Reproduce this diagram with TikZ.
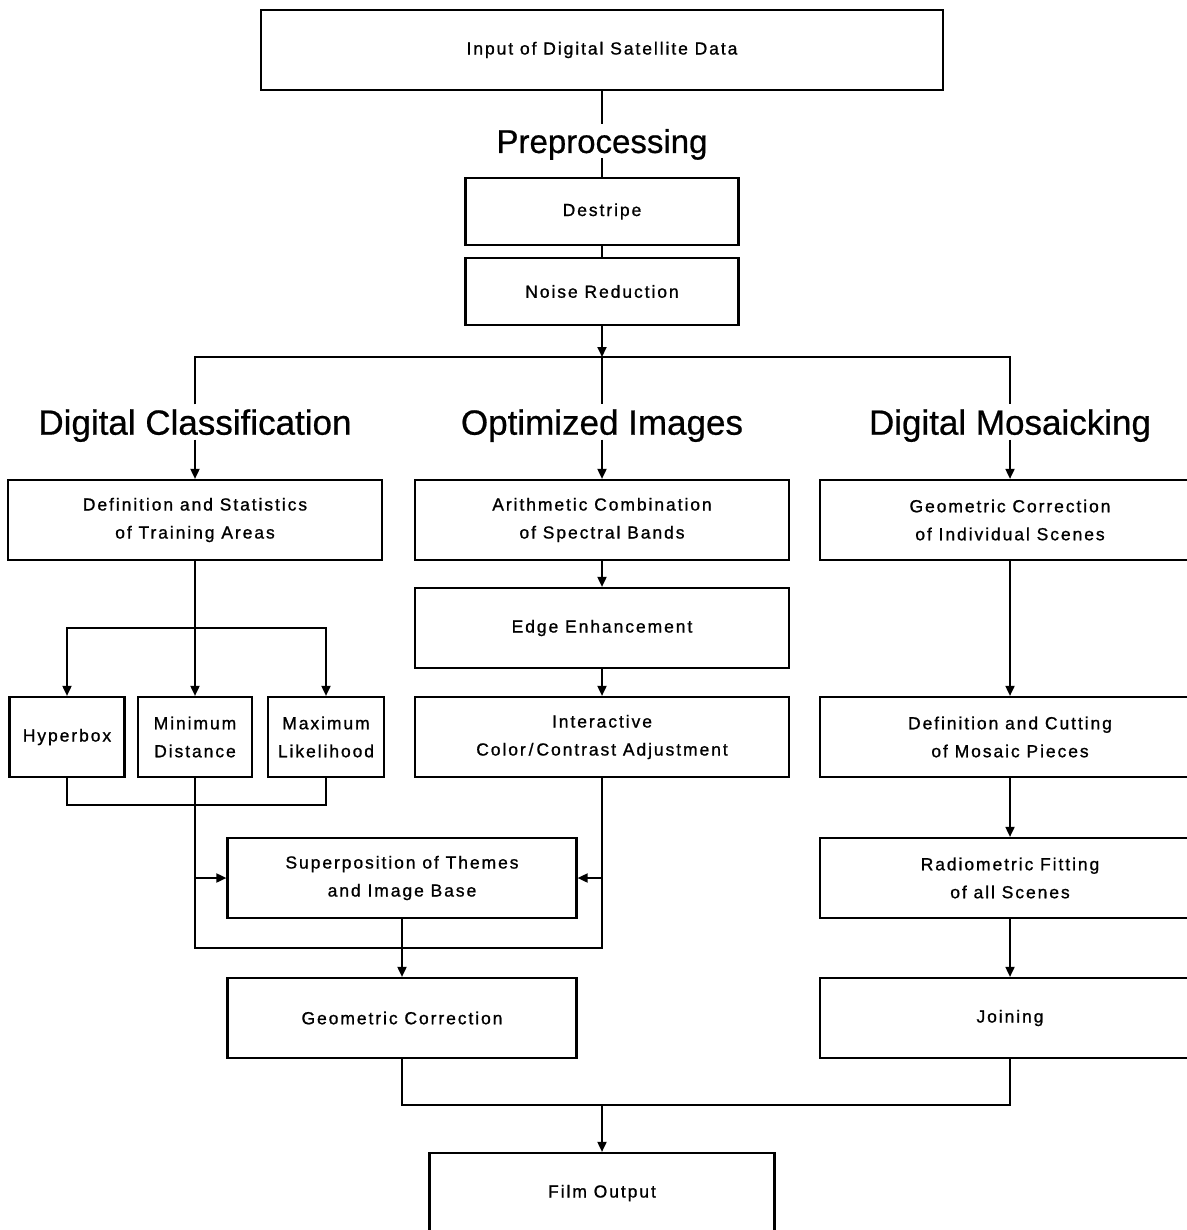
\documentclass[tikz,border=0pt]{standalone}
\usepackage{fontspec}
\usepackage{tikz}
\usetikzlibrary{arrows.meta}
\newfontfamily\boxfont[LetterSpace=11,FakeBold=1]{Liberation Sans}
\newfontfamily\headfont[FakeBold=0.6]{Liberation Sans}

\begin{document}
\begin{tikzpicture}[x=1pt,y=-1pt,>={Triangle[length=10pt,width=9pt]},
                    line width=1.8pt,
                    box node/.style={rectangle, draw, line width=2.2pt, minimum width=374pt,
                      minimum height=80pt, align=center, inner sep=0pt,
                      font=\boxfont\fontsize{17.5}{28}\selectfont},
                    head node/.style={inner sep=4pt, text depth=0pt,
                      font=\headfont\fontsize{35}{40}\selectfont}]
  \useasboundingbox (0,0) rectangle (1186,1230);

  %Preprocessing%
  \node[box node, minimum width=682pt] (1) at (602,50) {Input of Digital Satellite Data};
  \node[head node, font=\headfont\fontsize{33}{38}\selectfont] (2) at (602,141) {Preprocessing};
  \node[box node, minimum width=273pt, minimum height=67pt] (3) at (602,211.5) {Destripe};
  \node[box node, minimum width=273pt, minimum height=67pt] (4) [below of=3, node distance=80pt] {Noise Reduction};
  \coordinate (5) at (602,357);

  %Headings%
  \node[head node] (6) at (195,422) {Digital Classification};
  \node[head node] (7) at (602,422) {Optimized Images};
  \node[head node] (8) at (1010,422) {Digital Mosaicking};

  %Classification%
  \node[box node] (9) at (195,520) {Definition and Statistics\\of Training Areas};
  \node[box node, minimum width=115pt] (14) at (67,737) {Hyperbox};
  \node[box node, minimum width=114pt] (15) at (195,737) {Minimum\\Distance};
  \node[box node, minimum width=116pt] (16) at (326,737) {Maximum\\Likelihood};
  \node[box node, minimum width=349pt] (17) at (402,878) {Superposition of Themes\\and Image Base};
  \node[box node, minimum width=349pt] (18) [below of=17, node distance=140pt] {Geometric Correction};

  %Optimized%
  \node[box node] (10) at (602,520) {Arithmetic Combination\\of Spectral Bands};
  \node[box node] (12) [below of=10, node distance=108pt] {Edge Enhancement};
  \node[box node] (13) [below of=12, node distance=109pt] {Interactive\\Color\,/\,Contrast Adjustment};

  %Mosaicking%
  \node[box node, minimum width=380pt] (11) at (1010,520) {Geometric Correction\\of Individual Scenes};
  \node[box node, minimum width=380pt] (19) [below of=11, node distance=217pt] {Definition and Cutting\\of Mosaic Pieces};
  \node[box node, minimum width=380pt] (20) [below of=19, node distance=141pt] {Radiometric Fitting\\of all Scenes};
  \node[box node, minimum width=380pt] (21) [below of=20, node distance=140pt] {Joining};

  %Output%
  \node[box node, minimum width=345pt] (22) at (602,1193) {Film Output};

  \coordinate (a) at (195,628);
  \coordinate (b) at (195,805);
  \coordinate (c) at (195,878);
  \coordinate (d) at (195,948);
  \coordinate (e) at (602,878);
  \coordinate (f) at (602,1105);

  \path
    (1) edge (2)
    (2) edge (3)
    (3) edge (4)
    (5) edge (7);
  \draw (6) |- (5) -| (8);
  \draw (14) |- (b) -| (16);
  \draw (15) -- (d) -| (13);
  \draw (18) |- (f) -| (21);
  \draw[->] (a) -| (14);
  \draw[->] (a) -| (16);

  \path[->]
    (4) edge (5)
    (6) edge (9)
    (7) edge (10)
    (8) edge (11)
    (9) edge (15)
    (10) edge (12)
    (12) edge (13)
    (11) edge (19)
    (19) edge (20)
    (20) edge (21)
    (c) edge (17)
    (e) edge (17)
    (17) edge (18)
    (f) edge (22);
\end{tikzpicture}
\end{document}
